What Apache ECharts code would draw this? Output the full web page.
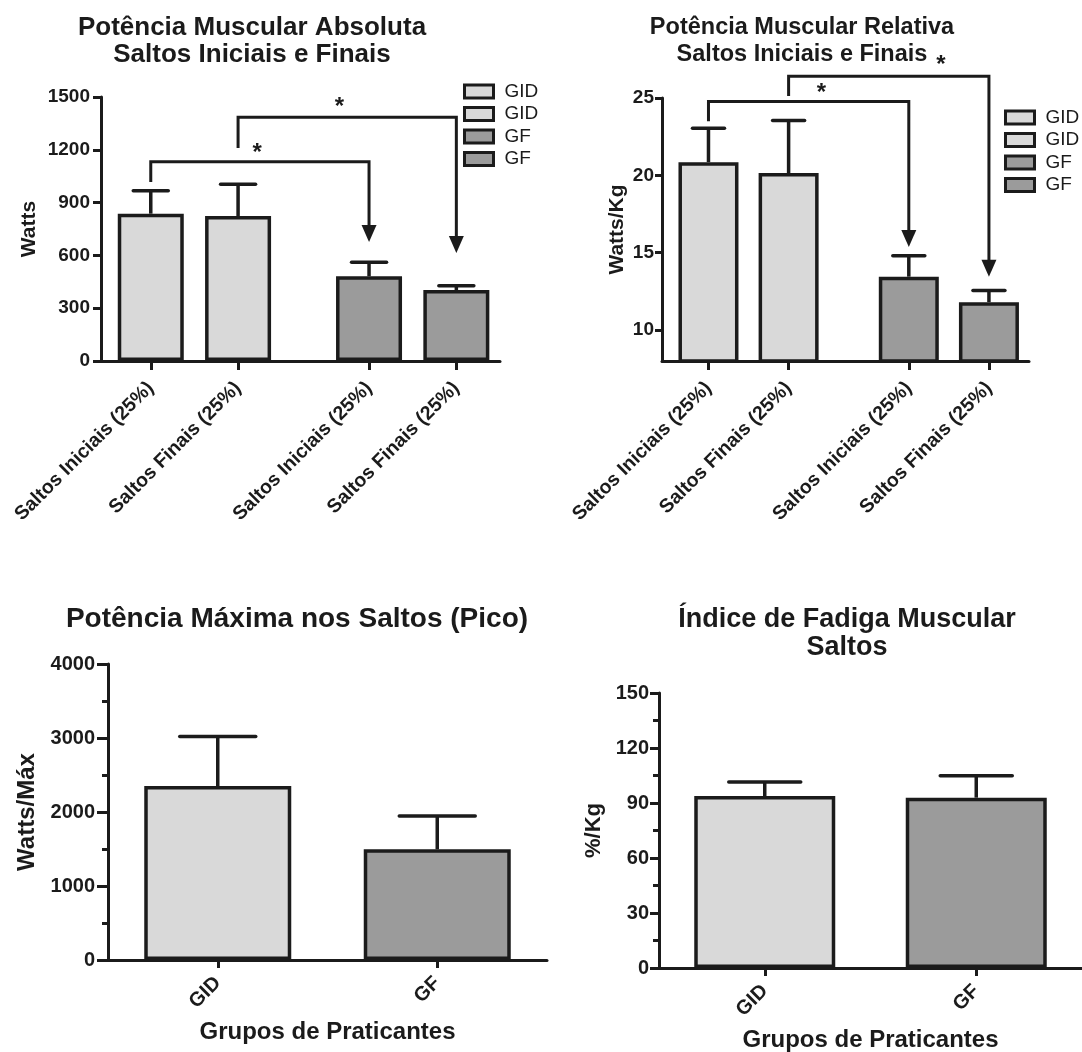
<!DOCTYPE html>
<html>
<head>
<meta charset="utf-8">
<script src="https://cdn.jsdelivr.net/npm/echarts@6/dist/echarts.min.js"></script>
<style>
html,body{margin:0;padding:0;background:#fff;}
#chart{width:1082px;height:1052px;}
</style>
</head>
<body>
<div id="chart"></div>
<script>
// ---------------- data ----------------
const topCategories = ['Saltos Iniciais (25%)', 'Saltos Finais (25%)', 'Saltos Iniciais (25%)', 'Saltos Finais (25%)'];
const topGroups = ['GID', 'GID', 'GF', 'GF'];
const absMean = [837, 824, 481, 403];
const absSem = [131, 180, 80, 25];
const relMean = [20.85, 20.15, 13.45, 11.8];
const relSem = [2.2, 3.4, 1.35, 0.75];
const relTicks = [10, 15, 20, 25];
const groupCats = ['GID', 'GF'];
const peakMean = [2350, 1495];
const peakSem = [670, 450];
const fatigueMean = [93.8, 92.9];
const fatigueSem = [7.6, 11.9];
// significance comparisons (bar index from -> to)
const absSig = [[0, 2], [1, 3]];
const relSig = [[0, 2], [1, 3]];

// ---------------- layout / style ----------------
const slotPos = [0, 1, 2.5, 3.5];
const absSigLevels = [[1017, 1132, 676, 1182, 1.22], [1210, 1385, 614, 1440, 2.16]];
const relSigLevels = [[23.5, 24.78, 15.37, 25.3, 1.41], [25.13, 26.41, 13.44, 27.1, 2.9]];
const FONT = "'Liberation Sans', Arial, Helvetica, sans-serif";
const INK = '#1b1b1b';
const groupColor = { GID: '#d9d9d9', GF: '#9b9b9b' };

// unique legend names (duplicates rendered identically)
const seen = {};
const topNames = topGroups.map(g => { seen[g] = (seen[g] || 0) + 1; return g + ' '.repeat(seen[g] - 1); });

const axisLine = { show: true, onZero: false, lineStyle: { color: INK, width: 3 } };
const tickStyle = { color: INK, width: 3 };
const plain = v => String(v);
function lbl(size, extra) { return Object.assign({ fontSize: size, fontWeight: 'bold', color: INK, fontFamily: FONT }, extra || {}); }

function errorSeries(xi, xs, means, sems, capW) {
  return {
    type: 'custom', xAxisIndex: xi, yAxisIndex: xi, z: 2, silent: true,
    data: means.map((m, i) => [xs[i], m, m + sems[i]]),
    encode: { x: 0, y: [1, 2] },
    renderItem: function (p, api) {
      const a = api.coord([api.value(0), api.value(1)]);
      const b = api.coord([api.value(0), api.value(2)]);
      return { type: 'group', children: [
        { type: 'line', shape: { x1: a[0], y1: a[1], x2: b[0], y2: b[1] }, style: { stroke: INK, lineWidth: 3.5 } },
        { type: 'line', shape: { x1: b[0] - capW / 2, y1: b[1], x2: b[0] + capW / 2, y2: b[1] }, style: { stroke: INK, lineWidth: 3.5, lineCap: 'round' } }
      ] };
    }
  };
}

function bracketSeries(xi, sig, levels) {
  return {
    type: 'custom', xAxisIndex: xi, yAxisIndex: xi, z: 4, silent: true, clip: false,
    data: sig.map((s, i) => [slotPos[s[0]], slotPos[s[1]], levels[i][0], levels[i][1], levels[i][2], levels[i][4], levels[i][3]]),
    encode: { x: [0, 1, 5], y: [2, 3, 4, 6] },
    renderItem: function (p, api) {
      const x1 = api.value(0), x2 = api.value(1);
      const s = api.coord([x1, api.value(2)]);
      const t1 = api.coord([x1, api.value(3)]);
      const t2 = api.coord([x2, api.value(3)]);
      const tip = api.coord([x2, api.value(4)]);
      const star = api.coord([api.value(5), api.value(6)]);
      const ah = 17, aw = 7.5;
      return { type: 'group', children: [
        { type: 'polyline', shape: { points: [s, t1, t2, [tip[0], tip[1] - ah + 1]] }, style: { stroke: INK, lineWidth: 3, fill: null, lineJoin: 'miter' } },
        { type: 'polygon', shape: { points: [[tip[0] - aw, tip[1] - ah], [tip[0] + aw, tip[1] - ah], [tip[0], tip[1]]] }, style: { fill: INK } },
        { type: 'text', style: { text: '*', x: star[0], y: star[1], align: 'center', verticalAlign: 'middle', font: 'bold 24px ' + FONT, fill: INK } }
      ] };
    }
  };
}

function topBars(xi, means, barW) {
  return means.map((m, i) => ({
    type: 'bar', name: topNames[i], xAxisIndex: xi, yAxisIndex: xi, z: 3,
    barWidth: barW, barGap: '-100%',
    data: [[slotPos[i], m]],
    itemStyle: { color: groupColor[topGroups[i]], borderColor: INK, borderWidth: 3.5 }
  }));
}

function groupBars(xi, means, barW) {
  return {
    type: 'bar', name: 'grp' + xi, xAxisIndex: xi, yAxisIndex: xi, z: 3, barWidth: barW,
    data: means.map((m, i) => ({ value: m, itemStyle: { color: groupColor[groupCats[i]] } })),
    itemStyle: { borderColor: INK, borderWidth: 3.5 }
  };
}

function topX(gi, min, max) {
  return {
    type: 'value', gridIndex: gi, min: min, max: max,
    axisLine: axisLine, splitLine: { show: false },
    axisTick: { show: true, customValues: slotPos, length: 9, lineStyle: tickStyle },
    axisLabel: lbl(19.5, { customValues: slotPos, rotate: 45, margin: 24,
      formatter: v => { const k = slotPos.indexOf(v); return k >= 0 ? topCategories[k] : ''; } })
  };
}

function groupX(gi) {
  return {
    type: 'category', gridIndex: gi, data: groupCats,
    axisLine: axisLine, splitLine: { show: false },
    axisTick: { show: true, alignWithLabel: true, length: 8, lineStyle: tickStyle },
    axisLabel: lbl(20, { rotate: 45, margin: 20 }),
    name: 'Grupos de Praticantes', nameLocation: 'middle', nameGap: 60, nameTextStyle: lbl(24)
  };
}

const legendBase = {
  orient: 'vertical', itemWidth: 29, itemHeight: 13, itemGap: 3.5, icon: 'rect', selectedMode: false, padding: 0,
  data: topNames, itemStyle: { borderColor: INK, borderWidth: 3 },
  textStyle: { fontSize: 19, color: INK, fontFamily: FONT, lineHeight: 13, padding: [0, 0, 0, 6] }
};

const option = {
  animation: false,
  backgroundColor: '#fff',
  title: [
    { text: 'Potência Muscular Absoluta\nSaltos Iniciais e Finais', left: 252, top: 14, textAlign: 'center', padding: 0, textStyle: lbl(26, { lineHeight: 27 }) },
    { text: 'Potência Muscular Relativa\nSaltos Iniciais e Finais', left: 802, top: 14, textAlign: 'center', padding: 0, textStyle: lbl(23.5, { lineHeight: 27 }) },
    { text: 'Potência Máxima nos Saltos (Pico)', left: 297, top: 603, textAlign: 'center', padding: 0, textStyle: lbl(28, { lineHeight: 32 }) },
    { text: 'Índice de Fadiga Muscular\nSaltos', left: 847, top: 605, textAlign: 'center', padding: 0, textStyle: lbl(27, { lineHeight: 28.5 }) }
  ],
  legend: [
    Object.assign({}, legendBase, { left: 463, top: 82 }),
    Object.assign({}, legendBase, { left: 1004, top: 108 })
  ],
  grid: [
    { left: 101, top: 97, width: 399, height: 264, outerBoundsMode: 'none' },
    { left: 662, top: 98, width: 367, height: 263, outerBoundsMode: 'none' },
    { left: 108, top: 664, width: 439, height: 296, outerBoundsMode: 'none' },
    { left: 659, top: 693, width: 423, height: 275, outerBoundsMode: 'none' }
  ],
  xAxis: [topX(0, -0.57, 4), topX(1, -0.58, 4), groupX(2), groupX(3)],
  yAxis: [
    { type: 'value', gridIndex: 0, min: 0, max: 1500, interval: 300, axisLine: axisLine, splitLine: { show: false },
      axisTick: { show: true, length: 8, lineStyle: tickStyle }, axisLabel: lbl(19, { margin: 11, formatter: plain }),
      name: 'Watts', nameLocation: 'middle', nameRotate: 90, nameGap: 61, nameTextStyle: lbl(21) },
    { type: 'value', gridIndex: 1, min: 8, max: 25, axisLine: axisLine, splitLine: { show: false },
      axisTick: { show: true, length: 7, customValues: relTicks, lineStyle: tickStyle }, axisLabel: lbl(19, { margin: 8, customValues: relTicks, formatter: plain }),
      name: 'Watts/Kg', nameLocation: 'middle', nameRotate: 90, nameGap: 34, nameTextStyle: lbl(21) },
    { type: 'value', gridIndex: 2, min: 0, max: 4000, interval: 1000, axisLine: axisLine, splitLine: { show: false },
      axisTick: { show: true, length: 11, lineStyle: tickStyle }, minorTick: { show: true, splitNumber: 2, length: 6, lineStyle: tickStyle },
      minorSplitLine: { show: false }, axisLabel: lbl(20, { margin: 13, formatter: plain }),
      name: 'Watts/Máx', nameLocation: 'middle', nameRotate: 90, nameGap: 69, nameTextStyle: lbl(24) },
    { type: 'value', gridIndex: 3, min: 0, max: 150, interval: 30, axisLine: axisLine, splitLine: { show: false },
      axisTick: { show: true, length: 9, lineStyle: tickStyle }, minorTick: { show: true, splitNumber: 2, length: 6, lineStyle: tickStyle },
      minorSplitLine: { show: false }, axisLabel: lbl(20, { margin: 10, formatter: plain }),
      name: '%/Kg', nameLocation: 'middle', nameRotate: 90, nameGap: 54, nameTextStyle: lbl(22) }
  ],
  series: [].concat(
    topBars(0, absMean, 66),
    [errorSeries(0, slotPos, absMean, absSem, 35), bracketSeries(0, absSig, absSigLevels)],
    topBars(1, relMean, 60),
    [errorSeries(1, slotPos, relMean, relSem, 32), bracketSeries(1, relSig, relSigLevels)],
    [groupBars(2, peakMean, 147), errorSeries(2, [0, 1], peakMean, peakSem, 76)],
    [groupBars(3, fatigueMean, 141), errorSeries(3, [0, 1], fatigueMean, fatigueSem, 72)]
  )
};

const chart = echarts.init(document.getElementById('chart'), null, { renderer: 'canvas' });
chart.setOption(option);
</script>
</body>
</html>
